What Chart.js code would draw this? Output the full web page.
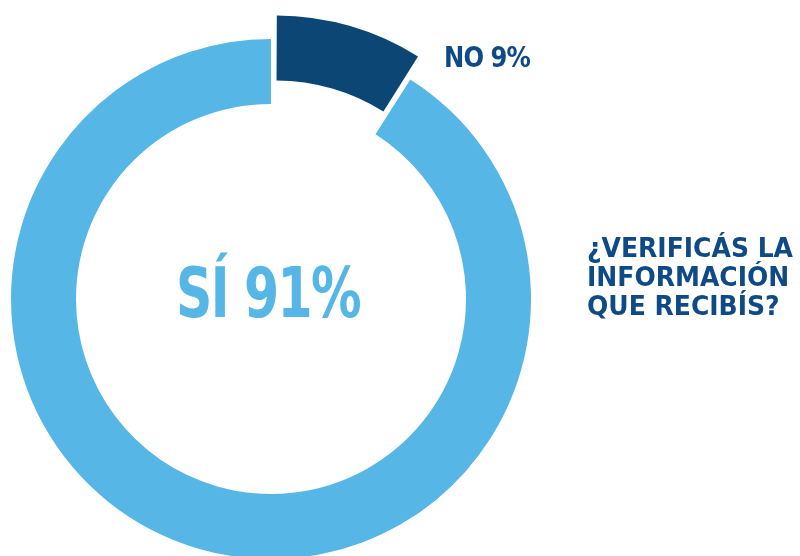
<!DOCTYPE html>
<html>
<head>
<meta charset="utf-8">
<script src="https://cdn.jsdelivr.net/npm/chart.js@4.4.1/dist/chart.umd.min.js"></script>
<style>
  html, body { margin: 0; padding: 0; background: #fff; }
  #wrap { position: relative; width: 800px; height: 556px; overflow: hidden; }
  canvas { position: absolute; left: 0; top: 0; }
  .lbl {
    position: absolute;
    font-family: "DejaVu Sans Condensed", "Liberation Sans Narrow", sans-serif;
    font-weight: bold;
    white-space: nowrap;
    line-height: 1;
    transform-origin: left top;
  }
  #no-label { left: 444px; top: 43px; font-size: 29px; color: #0e4a86; letter-spacing: -1px; }
  #si-label { left: 176px; top: 258px; font-size: 70px; color: #56b6e6; letter-spacing: -2px; }
  #title { left: 587px; top: 234px; font-size: 26px; color: #0e4a86; line-height: 29px; }
</style>
</head>
<body>
<div id="wrap">
  <canvas id="chart" width="800" height="556"></canvas>
  <div class="lbl" id="no-label"></div>
  <div class="lbl" id="si-label"></div>
  <div class="lbl" id="title">¿VERIFICÁS LA<br>INFORMACIÓN<br>QUE RECIBÍS?</div>
</div>
<script>
// Datos de la encuesta
const categories = ['NO', 'SÍ'];
const values = [9, 91];
const colors = ['#0b4675', '#56b6e6'];

// Etiquetas de texto a partir de los datos
document.getElementById('no-label').textContent = categories[0] + ' ' + values[0] + '%';
document.getElementById('si-label').textContent = categories[1] + ' ' + values[1] + '%';

function loadDonut() {
    const ctx = document.getElementById('chart').getContext('2d');
    new Chart(ctx, {
        type: 'doughnut',
        data: {
            labels: categories,
            datasets: [{
                data: values,
                backgroundColor: colors,
                borderWidth: 0,
                offset: [66, 0],
            }]
        },
        options: {
            responsive: false,
            animation: false,
            radius: 260,
            cutout: '75%',
            layout: { padding: { left: 0, right: 258, top: 42, bottom: 0 } },
            plugins: {
                legend: { display: false },
                tooltip: { enabled: false }
            }
        }
    });
}

// Ajusta el ancho del texto al de la imagen
function fitWidth(id, target) {
    const el = document.getElementById(id);
    const w = el.getBoundingClientRect().width;
    if (w > 0) el.style.transform = 'scaleX(' + (target / w) + ')';
}

loadDonut();
fitWidth('no-label', 86);
fitWidth('si-label', 184);
fitWidth('title', 206);
</script>
</body>
</html>
